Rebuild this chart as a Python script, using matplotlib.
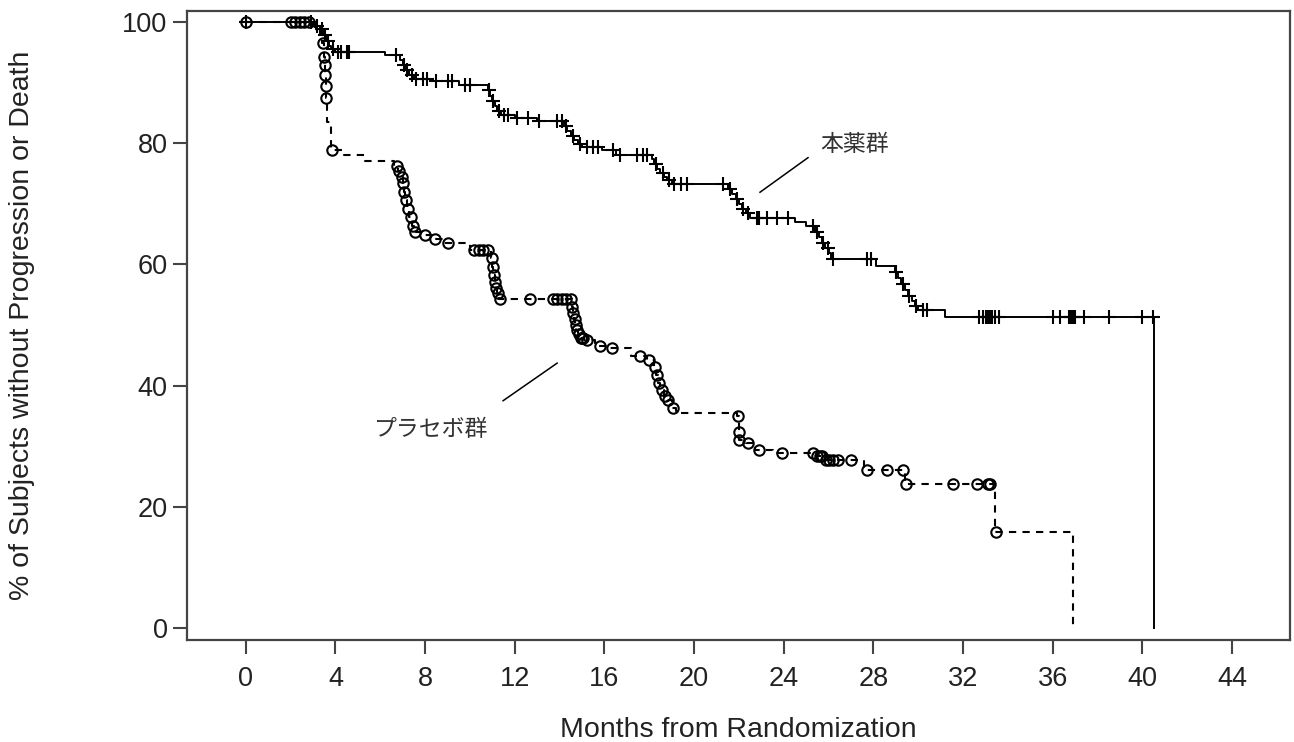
import matplotlib.pyplot as plt
import numpy as np

plt.rcParams['font.family'] = ['Liberation Sans', 'DejaVu Sans']

# Kaplan-Meier steps: (month, % without progression) after each step
trt_step_t = [3.0, 3.3, 3.5, 3.6, 3.7, 3.8, 4.0, 6.2, 6.9, 7.0, 7.1, 7.3, 7.5, 8.3, 9.5,
              10.8, 10.9, 11.0, 11.1, 11.2, 11.4, 12.0, 13.0, 14.2, 14.35, 14.5, 14.65, 14.8, 15.0,
              15.9, 16.5, 18.1, 18.2, 18.35, 18.5, 18.65, 18.8, 19.0, 21.5, 21.7, 21.85, 22.0,
              22.15, 22.3, 22.5, 24.5, 25.0, 25.4, 25.55, 25.7, 25.85, 26.0, 26.1, 28.1, 28.95,
              29.1, 29.25, 29.4, 29.55, 29.7, 29.85, 30.0, 31.2, 40.5]
trt_step_s = [99.4, 98.8, 97.8, 96.9, 96.1, 95.5, 95.0, 94.6, 93.7, 92.9, 92.1, 91.3, 90.6, 90.2, 89.6,
              88.7, 87.8, 86.9, 86.1, 85.3, 84.7, 84.2, 83.6, 82.8, 82.0, 81.2, 80.5, 79.9, 79.4,
              78.8, 78.1, 77.3, 76.5, 75.7, 75.0, 74.4, 73.9, 73.2, 72.4, 71.6, 70.8, 70.0,
              69.2, 68.4, 67.7, 67.0, 66.3, 65.4, 64.5, 63.6, 62.7, 61.8, 60.9, 59.8, 58.8,
              57.8, 56.8, 55.8, 54.8, 53.9, 53.1, 52.5, 51.3, 0.0]
trt_cens_t = [0, 2.9, 3.2, 3.4, 3.55, 3.65, 3.9, 4.1, 4.25, 4.5, 4.6, 6.7, 7.05, 7.2, 7.4, 7.6,
              7.9, 8.1, 8.5, 9.0, 9.2, 9.8, 10.0, 10.85, 11.05, 11.3, 11.5, 11.7, 12.1, 12.6, 13.1,
              13.9, 14.1, 14.3, 14.6, 14.9, 15.2, 15.5, 15.7, 16.4, 16.7, 17.45, 17.7, 17.9, 18.3,
              18.6, 18.9, 19.1, 19.4, 19.7, 21.3, 21.6, 21.9, 22.2, 22.4, 22.8, 22.9, 23.25, 23.7,
              24.2, 25.3, 25.5, 25.75, 25.95, 26.2, 27.7, 27.9, 29.0, 29.3, 29.6, 29.9, 30.2, 30.4,
              32.7, 32.9, 33.0, 33.1, 33.2, 33.3, 33.4, 33.6, 36.0, 36.3, 36.7, 36.8, 36.9, 37.0,
              37.4, 38.5, 40.0, 40.45]

pbo_step_t = [3.1, 3.3, 3.4, 3.5, 3.52, 3.54, 3.56, 3.58, 3.62, 3.8, 4.4, 5.3, 6.6, 6.8, 6.9,
              7.0, 7.05, 7.1, 7.2, 7.3, 7.4, 7.5, 7.9, 8.3, 8.8, 10.0, 10.95, 11.0, 11.05, 11.1,
              11.15, 11.2, 11.3, 14.55, 14.6, 14.65, 14.7, 14.75, 14.8, 14.9, 15.1, 15.6, 16.2,
              17.2, 17.9, 18.2, 18.3, 18.4, 18.5, 18.65, 18.8, 19.0, 19.2, 21.9, 21.98, 22.0,
              22.3, 22.7, 23.5, 25.5, 25.8, 27.6, 29.4, 33.4, 36.9]
pbo_step_s = [99.0, 98.0, 96.5, 94.2, 92.9, 91.3, 89.4, 87.4, 83.5, 78.9, 78.0, 77.0, 76.3, 75.4, 74.4,
              73.4, 72.0, 70.6, 69.2, 67.8, 66.4, 65.3, 64.9, 64.1, 63.5, 62.4, 61.0, 59.6, 58.2, 57.1,
              56.1, 55.2, 54.3, 53.0, 52.0, 51.0, 50.0, 49.2, 48.5, 47.8, 47.5, 46.6, 46.2,
              44.8, 44.2, 43.0, 41.8, 40.5, 39.3, 38.3, 37.6, 36.3, 35.5, 35.0, 32.3, 31.0,
              30.5, 29.4, 28.8, 28.3, 27.8, 26.1, 23.8, 15.8, 0.0]
pbo_cens_t = [0, 2.0, 2.2, 2.4, 2.6, 2.8, 3.45, 3.51, 3.53, 3.55, 3.57, 3.6, 3.85, 6.75, 6.85,
              6.95, 7.02, 7.08, 7.15, 7.25, 7.35, 7.45, 7.55, 8.0, 8.45, 9.0, 10.2, 10.4, 10.6,
              10.8, 10.97, 11.03, 11.08, 11.12, 11.18, 11.25, 11.35, 12.7, 13.7, 13.9, 14.1, 14.3,
              14.5, 14.57, 14.62, 14.67, 14.72, 14.78, 14.85, 14.95, 15.0, 15.05, 15.2, 15.8,
              16.35, 17.6, 18.0, 18.25, 18.35, 18.45, 18.55, 18.7, 18.85, 19.07, 21.95, 21.99,
              22.02, 22.4, 22.9, 23.9, 25.3, 25.5, 25.6, 25.7, 25.9, 26.0, 26.2, 26.4, 27.0,
              27.7, 28.6, 29.3, 29.45, 31.55, 32.6, 33.1, 33.2, 33.45]

x_ticks = list(range(0, 45, 4))
y_ticks = [0, 20, 40, 60, 80, 100]


def km_arrays(step_t, step_s):
    t = np.concatenate([[0.0], step_t])
    s = np.concatenate([[100.0], step_s])
    return t, s


def surv_at(t, s, times):
    idx = np.searchsorted(t, times, side='right') - 1
    return s[idx]


fig = plt.figure(figsize=(12.94, 7.42), dpi=100)
ax = fig.add_axes([187 / 1294, 102 / 742, 1103 / 1294, 629 / 742])

ink = '#222222'

# treatment arm: solid with + censor marks
t1, s1 = km_arrays(trt_step_t, trt_step_s)
ax.step(t1, s1, where='post', color='black', lw=1.4)
ax.plot(trt_cens_t, surv_at(t1, s1, trt_cens_t), ls='none', marker='+',
        ms=10, mew=1.5, color='black')

# placebo arm: dashed with open circle censor marks
t2, s2 = km_arrays(pbo_step_t, pbo_step_s)
ax.step(t2, s2, where='post', color='black', lw=1.5, ls=(0, (3.5, 3)))
ax.plot(pbo_cens_t, surv_at(t2, s2, pbo_cens_t), ls='none', marker='o',
        ms=7.5, mew=1.5, mfc='none', mec='black')

# labels for the arms
ax.plot([22.94, 25.08], [71.9, 77.6], color='black', lw=1.1)
ax.text(25.65, 79.7, '本薬群', family=['Noto Sans CJK JP'], fontsize=16.5,
        color='#333333', ha='left', va='center')
ax.plot([11.48, 13.89], [37.5, 43.7], color='black', lw=1.1)
ax.text(5.7, 32.7, 'プラセボ群', family=['Noto Sans CJK JP'], fontsize=16.5,
        color='#333333', ha='left', va='center')

ax.set_xlim(-2.62, 46.58)
ax.set_ylim(-1.98, 101.8)
ax.set_xticks(x_ticks)
ax.set_yticks(y_ticks)

for sp in ax.spines.values():
    sp.set_color('#444444')
    sp.set_linewidth(1.6)
ax.tick_params(axis='both', colors='#444444', labelcolor=ink, width=1.5,
               length=10, labelsize=19.5)
ax.tick_params(axis='x', pad=9)
ax.tick_params(axis='y', pad=4)

ax.set_xlabel('Months from Randomization', fontsize=20.5, color=ink)
ax.xaxis.set_label_coords(0.5, -0.143)
ax.xaxis.label.set_va('center')
ax.set_ylabel('% of Subjects without Progression or Death', fontsize=20.5, color=ink)
ax.yaxis.set_label_coords(-0.1496, 0.5)
ax.yaxis.label.set_va('center')

fig.savefig('out.png', dpi=100)
